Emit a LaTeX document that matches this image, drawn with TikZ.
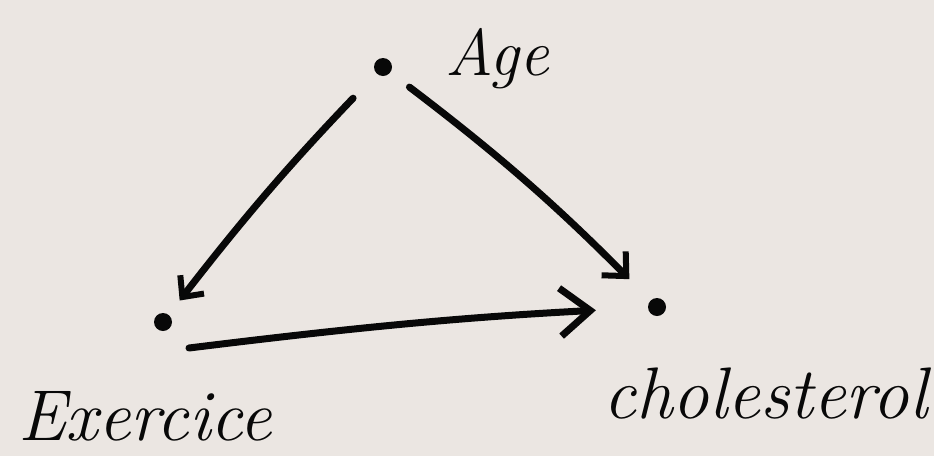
\documentclass[tikz,border=0pt]{standalone}
\usetikzlibrary{arrows.meta}
\definecolor{bg}{HTML}{EBE6E2}
\definecolor{ink}{HTML}{080808}
\begin{document}
\begin{tikzpicture}[x=1pt,y=-1pt,
  dotnode/.style={circle,fill=ink,inner sep=0pt,minimum size=18pt},
  lbl/.style={text=ink,inner sep=0pt,font=\fontsize{72}{76}\selectfont\itshape},
  edge/.style={draw=ink,line width=7pt,line cap=round,line join=round}]
\fill[bg] (0,0) rectangle (934,456);
\useasboundingbox (0,0) rectangle (934,456);
\node[dotnode] (age) at (383,67) {};
\node[dotnode] (ex) at (163,322) {};
\node[dotnode] (chol) at (657,307) {};
\node[lbl,font=\fontsize{66}{70}\selectfont\itshape,anchor=base west] (agel) at (445,75) {Age};
\node[lbl,anchor=base west] (exl) at (18,440) {Exercice};
\node[lbl,font=\fontsize{73}{76}\selectfont\itshape,anchor=base west] (choll) at (603,418) {cholesterol};
\draw[edge,-{Straight Barb[length=16pt,width=30pt,line width=6pt]},shorten <=34pt,shorten >=18pt]
  (age) to[bend right=3] (ex);
\draw[edge,-{Straight Barb[length=18pt,width=34pt,line width=6pt]},shorten <=24pt,shorten >=30pt]
  (age) to[bend left=4] (chol);
\coordinate (exs) at ([xshift=26pt,yshift=-26pt]ex.center);
\draw[edge,-{Straight Barb[length=30pt,width=48pt,line width=7pt]},shorten >=52pt]
  (exs) to[bend left=2] (chol);
\end{tikzpicture}
\end{document}
